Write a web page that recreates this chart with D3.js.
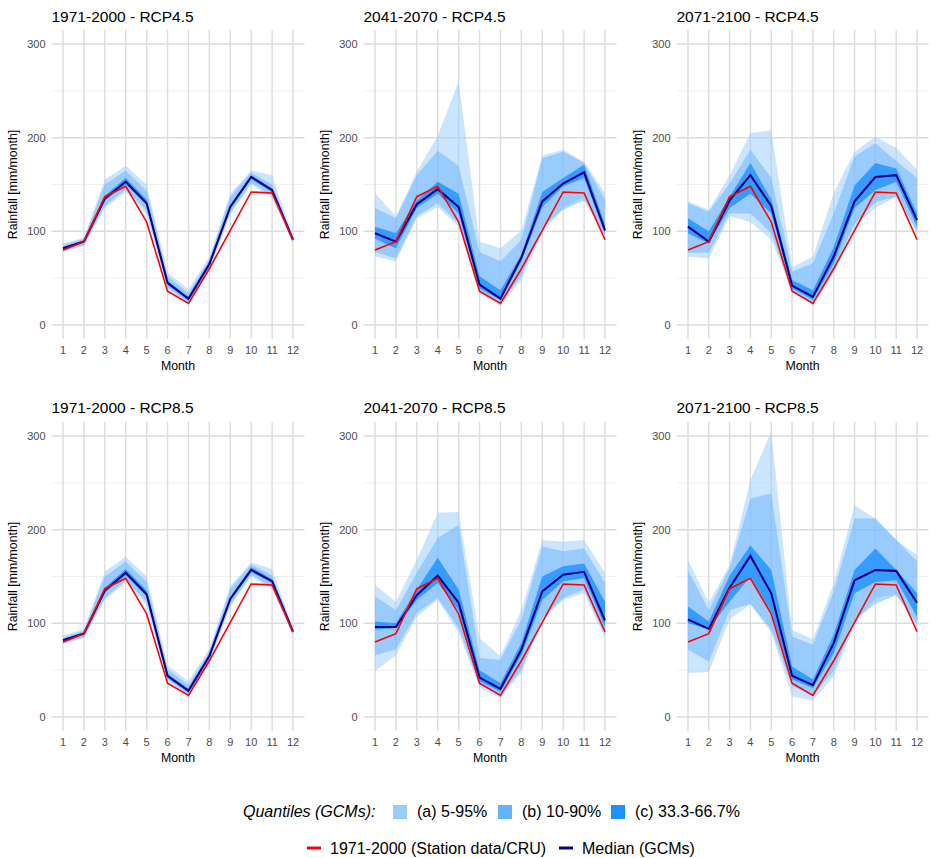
<!DOCTYPE html>
<html>
<head>
<meta charset="utf-8">
<script src="https://cdn.jsdelivr.net/npm/d3@7"></script>
<style>
html,body{margin:0;padding:0;background:#fff;}
text{font-family:"Liberation Sans",Arial,sans-serif;}
</style>
</head>
<body>
<svg id="chart" width="931" height="858"></svg>
<script>
// ---------- DATA ----------
const months = [1,2,3,4,5,6,7,8,9,10,11,12];
const yTicks = [0,100,200,300];
const yMinor = [50,150,250];
const panelTitles = ["1971-2000 - RCP4.5","2041-2070 - RCP4.5","2071-2100 - RCP4.5",
                     "1971-2000 - RCP8.5","2041-2070 - RCP8.5","2071-2100 - RCP8.5"];
const observed = [80,89,137,148,110,36,23,60,101,142,141,91];

// Panel 1: 1971-2000 RCP4.5
const p1_median = [82,89,135,153,130,45,28,65,126,158,144,91];
const p1_q05 = [78,84,125,142,118,38,22,58,118,150,135,87];
const p1_q95 = [87,93,155,170,150,56,38,73,140,165,160,95];
const p1_q10 = [79,85,127,145,122,40,24,60,120,152,138,88];
const p1_q90 = [85,92,150,165,143,52,34,70,137,163,150,94];
const p1_q33 = [81,88,133,150,128,43,26,63,124,156,142,90];
const p1_q67 = [83,90,138,157,134,47,30,67,128,160,146,92];

// Panel 2: 2041-2070 RCP4.5
const p2_median = [98,89,129,145,126,43,28,72,132,151,163,101];
const p2_q05 = [73,68,114,126,105,34,20,48,98,125,137,94];
const p2_q95 = [141,116,164,202,260,89,82,101,181,187,174,141];
const p2_q10 = [78,71,116,130,108,37,23,52,105,123,133,96];
const p2_q90 = [125,114,160,186,170,78,68,91,178,185,173,134];
const p2_q33 = [92,82,125,140,119,39,27,68,126,148,157,98];
const p2_q67 = [105,98,133,153,140,52,37,75,142,157,171,107];

// Panel 3: 2071-2100 RCP4.5
const p3_median = [105,89,133,160,127,42,30,73,132,158,160,112];
const p3_q05 = [73,71,116,110,91,36,21,55,105,125,137,98];
const p3_q95 = [132,123,160,205,208,62,73,141,185,201,189,166];
const p3_q10 = [77,77,119,119,98,37,23,59,108,131,137,101];
const p3_q90 = [130,121,151,187,157,57,66,119,180,194,175,157];
const p3_q33 = [98,87,125,140,119,39,27,66,125,144,153,105];
const p3_q67 = [114,100,137,173,134,48,37,83,149,173,167,119];

// Panel 4: 1971-2000 RCP8.5
const p4_median = [82,89,135,154,131,44,28,65,126,157,145,91];
const p4_q05 = [78,84,125,143,119,38,22,58,118,150,136,87];
const p4_q95 = [87,94,155,171,150,55,38,73,140,165,158,95];
const p4_q10 = [79,85,127,146,123,40,24,60,120,152,138,88];
const p4_q90 = [85,92,150,166,144,51,34,70,137,163,151,94];
const p4_q33 = [81,88,133,151,129,42,26,63,124,155,143,90];
const p4_q67 = [83,90,138,158,135,46,30,67,128,160,147,92];

// Panel 5: 2041-2070 RCP8.5
const p5_median = [96,96,130,151,122,42,30,72,134,152,155,103];
const p5_q05 = [49,66,107,125,90,31,20,47,102,125,132,84];
const p5_q95 = [141,123,168,218,219,84,65,114,189,187,189,154];
const p5_q10 = [66,72,111,127,95,34,24,50,106,127,136,87];
const p5_q90 = [129,114,154,191,205,63,61,104,182,177,180,143];
const p5_q33 = [93,95,125,143,114,38,27,66,125,145,148,96];
const p5_q67 = [102,100,136,170,136,50,36,79,150,161,164,123];

// Panel 6: 2071-2100 RCP8.5
const p6_median = [104,94,138,172,132,44,34,79,146,157,156,122];
const p6_q05 = [47,48,104,120,90,22,17,43,98,127,131,100];
const p6_q95 = [168,122,162,253,305,93,83,143,226,212,189,173];
const p6_q10 = [72,59,114,121,93,33,23,49,104,121,130,98];
const p6_q90 = [157,114,159,233,239,86,77,134,212,212,189,166];
const p6_q33 = [100,94,123,150,112,40,31,68,132,144,146,107];
const p6_q67 = [118,102,151,183,157,54,40,88,157,180,157,132];

const legendQuantLabels = ["(a) 5-95%","(b) 10-90%","(c) 33.3-66.7%"];
const legendLineLabels = ["1971-2000 (Station data/CRU)","Median (GCMs)"];

// ---------- BUILD ----------
const panels = [
  {title: panelTitles[0], median:p1_median, bands:[[p1_q05,p1_q95],[p1_q10,p1_q90],[p1_q33,p1_q67]]},
  {title: panelTitles[1], median:p2_median, bands:[[p2_q05,p2_q95],[p2_q10,p2_q90],[p2_q33,p2_q67]]},
  {title: panelTitles[2], median:p3_median, bands:[[p3_q05,p3_q95],[p3_q10,p3_q90],[p3_q33,p3_q67]]},
  {title: panelTitles[3], median:p4_median, bands:[[p4_q05,p4_q95],[p4_q10,p4_q90],[p4_q33,p4_q67]]},
  {title: panelTitles[4], median:p5_median, bands:[[p5_q05,p5_q95],[p5_q10,p5_q90],[p5_q33,p5_q67]]},
  {title: panelTitles[5], median:p6_median, bands:[[p6_q05,p6_q95],[p6_q10,p6_q90],[p6_q33,p6_q67]]}
];

const colRanges = [[51.5,304.5],[363.5,616.5],[676.5,928.5]];
const rowRanges = [[339,30],[731,422]];
const bandFill = ["#99ccff","#66b2ff","#1e90ff"];
const bandOpacity = [0.5,0.5,0.8];
const gridMajor = "#dcdcdc", gridMinor = "#f1f1f1";
const tickCol = "#4d4d4d";

const svg = d3.select("#chart");
svg.append("rect").attr("width",931).attr("height",858).attr("fill","#fff");

panels.forEach((p,i)=>{
  const col = i%3, row = Math.floor(i/3);
  const x = d3.scaleLinear().domain([0.45,12.55]).range(colRanges[col]);
  const y = d3.scaleLinear().domain([-15,315]).range(rowRanges[row]);
  const g = svg.append("g");
  const [x0,x1] = x.range(); const [yb,yt] = y.range();

  // grid
  g.selectAll(".ymin").data(yMinor).join("line")
    .attr("x1",x0).attr("x2",x1).attr("y1",d=>y(d)).attr("y2",d=>y(d))
    .attr("stroke",gridMinor).attr("stroke-width",1);
  g.selectAll(".ymaj").data(yTicks).join("line")
    .attr("x1",x0).attr("x2",x1).attr("y1",d=>y(d)).attr("y2",d=>y(d))
    .attr("stroke",gridMajor).attr("stroke-width",1.4);
  g.selectAll(".xmaj").data(months).join("line")
    .attr("x1",d=>x(d)).attr("x2",d=>x(d)).attr("y1",yb).attr("y2",yt)
    .attr("stroke",gridMajor).attr("stroke-width",1.4);

  // bands
  p.bands.forEach((b,k)=>{
    const area = d3.area().x((d,j)=>x(months[j])).y0((d,j)=>y(b[0][j])).y1((d,j)=>y(b[1][j]));
    g.append("path").datum(months).attr("d",area)
      .attr("fill",bandFill[k]).attr("fill-opacity",bandOpacity[k]);
  });

  const line = arr => d3.line().x((d,j)=>x(months[j])).y(d=>y(d))(arr);
  g.append("path").attr("d",line(p.median)).attr("fill","none").attr("stroke","#00008b").attr("stroke-width",2.1);
  g.append("path").attr("d",line(observed)).attr("fill","none").attr("stroke","#ff0000").attr("stroke-width",1.6);

  // axes text
  g.selectAll(".yl").data(yTicks).join("text")
    .attr("x",x0-6).attr("y",d=>y(d)).attr("dy","0.35em").attr("text-anchor","end")
    .attr("font-size",11).attr("fill",tickCol).text(d=>d);
  g.selectAll(".xl").data(months).join("text")
    .attr("x",d=>x(d)).attr("y",yb+15).attr("text-anchor","middle")
    .attr("font-size",11).attr("fill",tickCol).text(d=>d);
  g.append("text").attr("x",(x0+x1)/2).attr("y",yb+31).attr("text-anchor","middle")
    .attr("font-size",12.3).attr("fill","#000").text("Month");
  g.append("text").attr("transform",`translate(${x0-38.5},${(yb+yt)/2}) rotate(-90)`)
    .attr("dy","0.35em").attr("text-anchor","middle").attr("font-size",12.3).attr("fill","#000")
    .text("Rainfall [mm/month]");
  g.append("text").attr("x",x0).attr("y",row===0?22:413)
    .attr("font-size",15.5).attr("fill","#000").text(p.title);
});

// legend
const lg = svg.append("g");
lg.append("text").attr("x",243).attr("y",817).attr("font-size",16).attr("font-style","italic").text("Quantiles (GCMs):");
const sqX = [393,498,611];
legendQuantLabels.forEach((t,k)=>{
  lg.append("rect").attr("x",sqX[k]).attr("y",805).attr("width",14).attr("height",14).attr("fill",bandFill[k]);
  lg.append("text").attr("x",sqX[k]+24).attr("y",817).attr("font-size",16).text(t);
});
const lnX = [307,559];
const lnCol = ["#ff0000","#00008b"];
legendLineLabels.forEach((t,k)=>{
  lg.append("line").attr("x1",lnX[k]).attr("x2",lnX[k]+14).attr("y1",848).attr("y2",848)
    .attr("stroke",lnCol[k]).attr("stroke-width",3);
  lg.append("text").attr("x",lnX[k]+23).attr("y",854).attr("font-size",16).text(t);
});
</script>
</body>
</html>
